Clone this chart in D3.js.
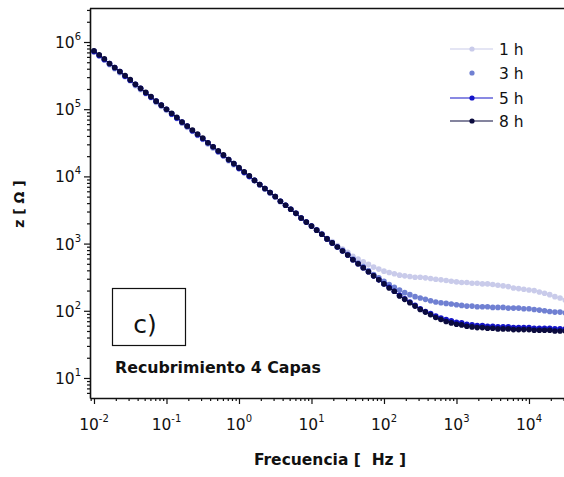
<!DOCTYPE html>
<html>
<head>
<meta charset="utf-8">
<script src="https://cdn.jsdelivr.net/npm/d3@7"></script>
<style>
  html, body { margin: 0; padding: 0; background: #fff; }
  svg { display: block; }
  text { font-family: "DejaVu Sans", Verdana, sans-serif; fill: #111; }
</style>
</head>
<body>
<svg id="chart" width="564" height="477"></svg>
<script>
// Frequencies in Hz (14 points per decade)
const frequency = [
  0.01, 0.01179, 0.01389, 0.01638, 0.01931, 0.02276, 0.02683, 0.03162, 0.03728, 0.04394, 0.05179, 0.06105, 0.07197, 0.08483,
  0.1, 0.1179, 0.1389, 0.1638, 0.1931, 0.2276, 0.2683, 0.3162, 0.3728, 0.4394, 0.5179, 0.6105, 0.7197, 0.8483,
  1, 1.179, 1.389, 1.638, 1.931, 2.276, 2.683, 3.162, 3.728, 4.394, 5.179, 6.105, 7.197, 8.483,
  10, 11.79, 13.89, 16.38, 19.31, 22.76, 26.83, 31.62, 37.28, 43.94, 51.79, 61.05, 71.97, 84.83,
  100, 117.9, 138.9, 163.8, 193.1, 227.6, 268.3, 316.2, 372.8, 439.4, 517.9, 610.5, 719.7, 848.3,
  1000, 1179, 1389, 1638, 1931, 2276, 2683, 3162, 3728, 4394, 5179, 6105, 7197, 8483,
  10000, 11790, 13890, 16380, 19310, 22760, 26830, 31620
];

// log10(|Z| / Ω) for each immersion time
const logZ1h = [
  5.85, 5.79, 5.73, 5.66, 5.60, 5.54, 5.48, 5.42, 5.35, 5.29,
  5.23, 5.17, 5.10, 5.04, 4.98, 4.92, 4.86, 4.79, 4.73, 4.67,
  4.61, 4.55, 4.48, 4.42, 4.36, 4.30, 4.23, 4.17, 4.11, 4.05,
  3.99, 3.93, 3.87, 3.81, 3.75, 3.69, 3.62, 3.57, 3.51, 3.45,
  3.38, 3.32, 3.26, 3.21, 3.15, 3.08, 3.03, 2.97, 2.92, 2.87,
  2.81, 2.77, 2.73, 2.69, 2.65, 2.62, 2.59, 2.57, 2.55, 2.53,
  2.52, 2.51, 2.50, 2.50, 2.49, 2.48, 2.47, 2.46, 2.45, 2.44,
  2.43, 2.42, 2.42, 2.41, 2.41, 2.40, 2.40, 2.39, 2.38, 2.37,
  2.36, 2.34, 2.33, 2.32, 2.31, 2.30, 2.28, 2.26, 2.24, 2.21,
  2.19, 2.16
];
const logZ3h = [
  5.86, 5.80, 5.74, 5.67, 5.61, 5.55, 5.49, 5.43, 5.36, 5.30,
  5.24, 5.18, 5.11, 5.05, 4.99, 4.93, 4.87, 4.80, 4.74, 4.68,
  4.62, 4.56, 4.49, 4.43, 4.37, 4.31, 4.24, 4.18, 4.12, 4.06,
  4.00, 3.94, 3.88, 3.82, 3.76, 3.70, 3.63, 3.57, 3.51, 3.45,
  3.38, 3.32, 3.26, 3.20, 3.14, 3.07, 3.01, 2.95, 2.90, 2.84,
  2.77, 2.71, 2.66, 2.60, 2.54, 2.49, 2.44, 2.39, 2.35, 2.31,
  2.27, 2.24, 2.21, 2.19, 2.17, 2.15, 2.13, 2.12, 2.11, 2.10,
  2.09, 2.08, 2.07, 2.07, 2.06, 2.06, 2.06, 2.05, 2.05, 2.05,
  2.04, 2.04, 2.04, 2.03, 2.03, 2.02, 2.01, 2.00, 1.99, 1.98,
  1.98, 1.97
];
const logZ5h = [
  5.86, 5.80, 5.74, 5.68, 5.62, 5.56, 5.49, 5.43, 5.37, 5.31,
  5.24, 5.18, 5.12, 5.06, 5.00, 4.93, 4.87, 4.81, 4.75, 4.68,
  4.62, 4.56, 4.50, 4.44, 4.37, 4.31, 4.25, 4.19, 4.12, 4.06,
  4.00, 3.94, 3.88, 3.82, 3.76, 3.70, 3.63, 3.57, 3.51, 3.45,
  3.38, 3.32, 3.26, 3.20, 3.14, 3.07, 3.01, 2.95, 2.89, 2.83,
  2.76, 2.70, 2.64, 2.58, 2.52, 2.46, 2.40, 2.35, 2.29, 2.23,
  2.18, 2.13, 2.08, 2.03, 1.99, 1.96, 1.92, 1.89, 1.87, 1.85,
  1.83, 1.82, 1.80, 1.79, 1.78, 1.78, 1.77, 1.77, 1.76, 1.76,
  1.76, 1.75, 1.75, 1.75, 1.75, 1.74, 1.74, 1.74, 1.74, 1.73,
  1.73, 1.73
];
const logZ8h = [
  5.87, 5.81, 5.75, 5.68, 5.62, 5.56, 5.50, 5.44, 5.37, 5.31,
  5.25, 5.19, 5.12, 5.06, 5.00, 4.94, 4.88, 4.81, 4.75, 4.69,
  4.63, 4.57, 4.50, 4.44, 4.38, 4.32, 4.25, 4.19, 4.13, 4.07,
  4.01, 3.94, 3.88, 3.82, 3.76, 3.70, 3.63, 3.57, 3.51, 3.45,
  3.38, 3.32, 3.26, 3.20, 3.14, 3.07, 3.01, 2.95, 2.89, 2.83,
  2.76, 2.70, 2.64, 2.58, 2.52, 2.46, 2.40, 2.34, 2.29, 2.22,
  2.17, 2.12, 2.07, 2.02, 1.98, 1.94, 1.90, 1.87, 1.84, 1.82,
  1.80, 1.79, 1.77, 1.76, 1.75, 1.75, 1.74, 1.74, 1.73, 1.73,
  1.73, 1.72, 1.72, 1.72, 1.72, 1.71, 1.71, 1.71, 1.71, 1.70,
  1.70, 1.70
];

const seriesNames = ["1 h", "3 h", "5 h", "8 h"];
const seriesValues = [logZ1h, logZ3h, logZ5h, logZ8h];
const seriesColors = ["#c9cbea", "#7080d2", "#1414c8", "#0b0b3e"];
const seriesHasLine = [true, false, true, true];

const xTickExponents = [-2, -1, 0, 1, 2, 3, 4];
const yTickExponents = [1, 2, 3, 4, 5, 6];

const xTitle = "Frecuencia [  Hz ]";
const yTitle = "z [ Ω ]";
const panelLabel = "c)";
const noteText = "Recubrimiento 4 Capas";

const svg = d3.select("#chart");
const plotLeft = 90, plotTop = 8, plotBottom = 398, plotRight = 564;

const x = d3.scaleLog().domain([Math.pow(10, -2.055), Math.pow(10, 4.483)]).range([plotLeft, plotRight]);
const y = d3.scaleLog().domain([Math.pow(10, 0.702), Math.pow(10, 6.506)]).range([plotBottom, plotTop]);

svg.append("defs").append("clipPath").attr("id", "plotClip")
  .append("rect").attr("x", plotLeft).attr("y", plotTop)
  .attr("width", plotRight - plotLeft).attr("height", plotBottom - plotTop);

// Data: thin connecting lines then markers, earliest time drawn first
const plot = svg.append("g").attr("clip-path", "url(#plotClip)");
seriesValues.forEach((vals, i) => {
  const pts = frequency.map((f, k) => [x(f), y(Math.pow(10, vals[k]))]);
  if (seriesHasLine[i]) {
    plot.append("path")
      .attr("d", d3.line()(pts))
      .attr("fill", "none")
      .attr("stroke", seriesColors[i])
      .attr("stroke-width", 1);
  }
  plot.append("g").selectAll("circle").data(pts).join("circle")
    .attr("cx", d => d[0]).attr("cy", d => d[1])
    .attr("r", 2.8)
    .attr("fill", seriesColors[i]);
});

// Frame: top border, left and bottom axes
svg.append("line").attr("x1", plotLeft).attr("x2", plotRight)
  .attr("y1", plotTop + 0.5).attr("y2", plotTop + 0.5)
  .attr("stroke", "#111").attr("stroke-width", 1.6);

const isDecade = d => Math.abs(Math.log10(d) - Math.round(Math.log10(d))) < 1e-9;

const xAxis = d3.axisBottom(x)
  .tickValues(d3.range(-3, 5).flatMap(e => d3.range(1, 10).map(m => m * Math.pow(10, e)))
    .filter(v => v >= x.domain()[0] && v <= x.domain()[1]))
  .tickSize(3).tickSizeOuter(0).tickFormat("");
const gx = svg.append("g").attr("transform", `translate(0,${plotBottom})`).call(xAxis);
const yAxis = d3.axisLeft(y)
  .tickValues(d3.range(0, 7).flatMap(e => d3.range(1, 10).map(m => m * Math.pow(10, e)))
    .filter(v => v >= y.domain()[0] && v <= y.domain()[1]))
  .tickSize(3).tickSizeOuter(0).tickFormat("");
const gy = svg.append("g").attr("transform", `translate(${plotLeft},0)`).call(yAxis);

gx.select(".domain").attr("stroke", "#111").attr("stroke-width", 1.6);
gy.select(".domain").attr("stroke", "#111").attr("stroke-width", 1.6);
gx.selectAll(".tick line").attr("stroke", "#111").attr("stroke-width", 1.2);
gy.selectAll(".tick line").attr("stroke", "#111").attr("stroke-width", 1.2);
gx.selectAll(".tick").filter(isDecade).select("line").attr("y2", 6);
gy.selectAll(".tick").filter(isDecade).select("line").attr("x2", -6);

// Tick labels as 10 with a superscript exponent
xTickExponents.forEach(e => {
  const t = svg.append("text")
    .attr("x", x(Math.pow(10, e))).attr("y", 430)
    .attr("text-anchor", "middle")
    .style("font-size", "15.5px");
  t.append("tspan").text("10");
  t.append("tspan").attr("dy", -8).style("font-size", "10px").text(e);
});
yTickExponents.forEach(e => {
  const t = svg.append("text")
    .attr("x", 81).attr("y", y(Math.pow(10, e)) + 6)
    .attr("text-anchor", "end")
    .style("font-size", "15.5px");
  t.append("tspan").text("10");
  t.append("tspan").attr("dy", -8).style("font-size", "10px").text(e);
});

// Axis titles
svg.append("text")
  .attr("x", 330).attr("y", 465)
  .attr("text-anchor", "middle")
  .style("font-size", "15.5px").style("font-weight", "bold")
  .style("white-space", "pre")
  .text(xTitle);
svg.append("text")
  .attr("transform", "translate(24,204) rotate(-90)")
  .attr("text-anchor", "middle")
  .style("font-size", "14px").style("font-weight", "bold")
  .style("white-space", "pre")
  .text(yTitle);

// Panel label box and note
svg.append("rect").attr("x", 112.5).attr("y", 288.5).attr("width", 73).attr("height", 57)
  .attr("fill", "none").attr("stroke", "#111").attr("stroke-width", 1.2);
svg.append("text").attr("x", 145).attr("y", 333).attr("text-anchor", "middle")
  .style("font-size", "25px").text(panelLabel);
svg.append("text").attr("x", 115).attr("y", 373)
  .style("font-size", "15.8px").style("font-weight", "bold").text(noteText);

// Legend
const legendY = [49, 73, 98, 121];
seriesNames.forEach((name, i) => {
  const g = svg.append("g").attr("transform", `translate(0,${legendY[i]})`);
  if (seriesHasLine[i]) {
    g.append("line").attr("x1", 450).attr("x2", 493).attr("y1", 0).attr("y2", 0)
      .attr("stroke", seriesColors[i]).attr("stroke-width", 1.2);
  }
  g.append("circle").attr("cx", 472).attr("cy", 0).attr("r", 2.6).attr("fill", seriesColors[i]);
  g.append("text").attr("x", 499).attr("y", 5.5)
    .style("font-size", "15.5px").style("white-space", "pre").text(name);
});
</script>
</body>
</html>
